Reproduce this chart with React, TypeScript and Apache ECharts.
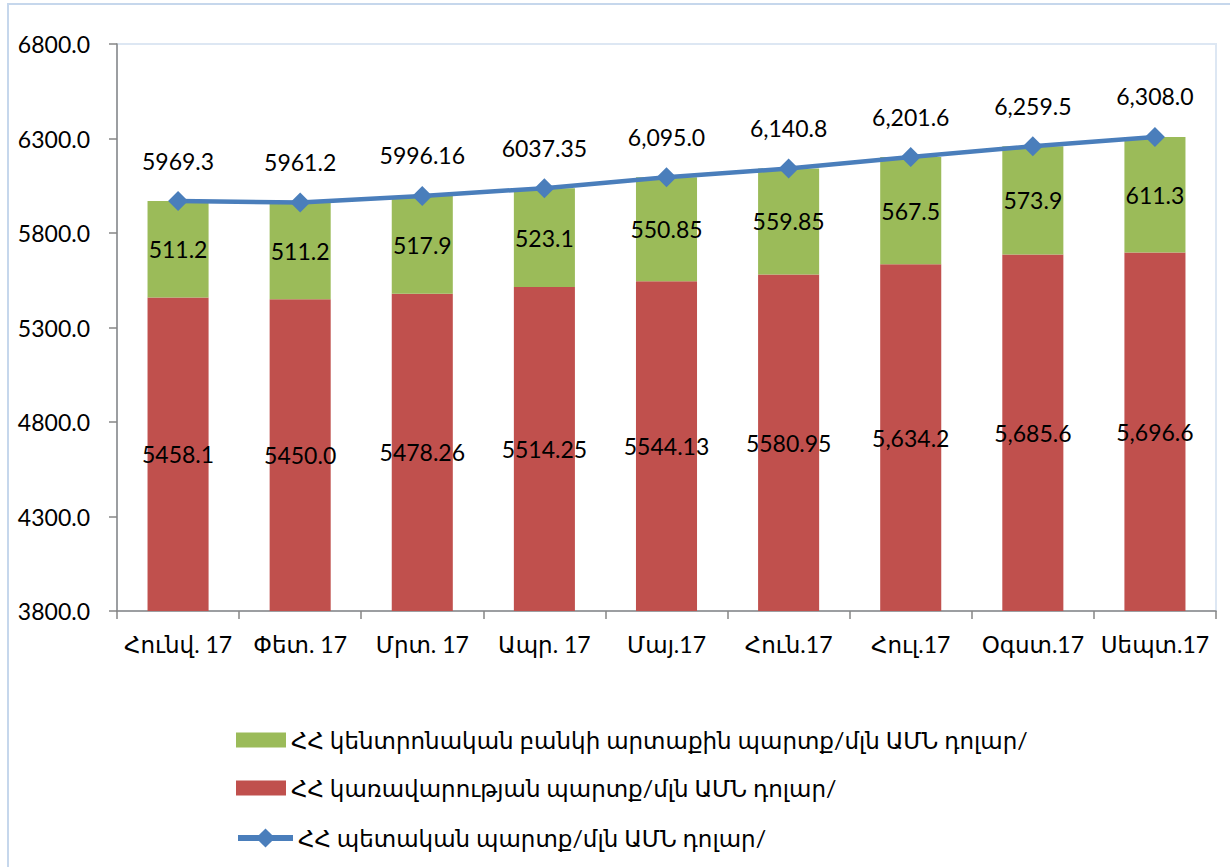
import React, { useEffect, useRef } from 'react';
import * as echarts from 'echarts';

const categories = ['Հունվ. 17', 'Փետ. 17', 'Մրտ. 17', 'Ապր. 17', 'Մայ.17', 'Հուն.17', 'Հուլ.17', 'Օգստ.17', 'Սեպտ.17'];
const govDebt = [5458.1, 5450.0, 5478.26, 5514.25, 5544.13, 5580.95, 5634.2, 5685.6, 5696.6];
const cbDebt = [511.2, 511.2, 517.9, 523.1, 550.85, 559.85, 567.5, 573.9, 611.3];
const totalDebt = [5969.3, 5961.2, 5996.16, 6037.35, 6095.0, 6140.8, 6201.6, 6259.5, 6308.0];
const govLabels = ['5458.1', '5450.0', '5478.26', '5514.25', '5544.13', '5580.95', '5,634.2', '5,685.6', '5,696.6'];
const cbLabels = ['511.2', '511.2', '517.9', '523.1', '550.85', '559.85', '567.5', '573.9', '611.3'];
const totalLabels = ['5969.3', '5961.2', '5996.16', '6037.35', '6,095.0', '6,140.8', '6,201.6', '6,259.5', '6,308.0'];
const yMin = 3800;
const yMax = 6800;
const yInterval = 500;

const nameCb = 'ՀՀ կենտրոնական բանկի արտաքին պարտք/մլն ԱՄՆ դոլար/';
const nameGov = 'ՀՀ կառավարության պարտք/մլն ԱՄՆ դոլար/';
const nameTotal = 'ՀՀ պետական պարտք/մլն ԱՄՆ դոլար/';

const FONT = "Lato, 'DejaVu Sans', sans-serif";

export default function App() {
  const ref = useRef<HTMLDivElement>(null);
  useEffect(() => {
    document.body.style.margin = '0';
    if (!ref.current) return;
    const chart = echarts.init(ref.current, null, { renderer: 'svg' });
    const labelStyle = { color: '#000', fontSize: 23, fontFamily: FONT };
    const legendText = { color: '#000', fontSize: 23, fontFamily: FONT, lineHeight: 24 };
    chart.setOption({
      animation: false,
      backgroundColor: '#fff',
      textStyle: { fontFamily: FONT },
      graphic: [
        {
          type: 'rect',
          shape: { x: 8, y: 4, width: 1300, height: 1000 },
          style: { fill: 'none', stroke: '#c6d7ec', lineWidth: 2 },
          silent: true,
        },
      ],
      grid: {
        left: 117,
        right: 14,
        top: 44,
        bottom: 256,
        show: true,
        borderColor: '#dde7f3',
        borderWidth: 2,
        backgroundColor: 'transparent',
      },
      legend: [
        {
          data: [nameCb, nameGov],
          orient: 'vertical',
          left: 231,
          top: 723,
          itemWidth: 50,
          itemHeight: 15,
          itemGap: 24,
          icon: 'rect',
          textStyle: legendText,
        },
        {
          data: [nameTotal],
          orient: 'vertical',
          left: 230,
          top: 821,
          itemWidth: 55,
          itemHeight: 24,
          lineStyle: { width: 6 },
          textStyle: legendText,
        },
      ],
      xAxis: {
        type: 'category',
        data: categories,
        axisLine: { lineStyle: { color: '#868686', width: 1.5 } },
        axisTick: { show: true, length: 8, lineStyle: { color: '#868686', width: 1.5 } },
        axisLabel: { color: '#000', fontSize: 23, fontFamily: FONT, margin: 21, interval: 0 },
      },
      yAxis: {
        type: 'value',
        min: yMin,
        max: yMax,
        interval: yInterval,
        axisLine: { show: true, lineStyle: { color: '#868686', width: 1.5 } },
        axisTick: { show: true, length: 8, lineStyle: { color: '#868686', width: 1.5 } },
        splitLine: { show: false },
        axisLabel: {
          color: '#000',
          fontSize: 23,
          fontFamily: FONT,
          margin: 27,
          formatter: (v: number) => v.toFixed(1),
        },
      },
      series: [
        {
          name: nameGov,
          type: 'bar',
          stack: 'debt',
          data: govDebt,
          barWidth: '50%',
          itemStyle: { color: '#c0504d' },
          label: {
            show: true,
            position: 'inside',
            ...labelStyle,
            formatter: (p: any) => govLabels[p.dataIndex],
          },
        },
        {
          name: nameCb,
          type: 'bar',
          stack: 'debt',
          data: cbDebt,
          barWidth: '50%',
          itemStyle: { color: '#9bbb59' },
          label: {
            show: true,
            position: 'inside',
            ...labelStyle,
            formatter: (p: any) => cbLabels[p.dataIndex],
          },
        },
        {
          name: nameTotal,
          type: 'line',
          data: totalDebt,
          symbol: 'diamond',
          symbolSize: 20,
          lineStyle: { color: '#4a7ebb', width: 4.5 },
          itemStyle: { color: '#4a7ebb' },
          label: {
            show: true,
            position: 'top',
            distance: 19,
            ...labelStyle,
            formatter: (p: any) => totalLabels[p.dataIndex],
          },
          z: 5,
        },
      ],
    });
    return () => chart.dispose();
  }, []);
  return <div ref={ref} style={{ width: 1230, height: 867 }} />;
}
